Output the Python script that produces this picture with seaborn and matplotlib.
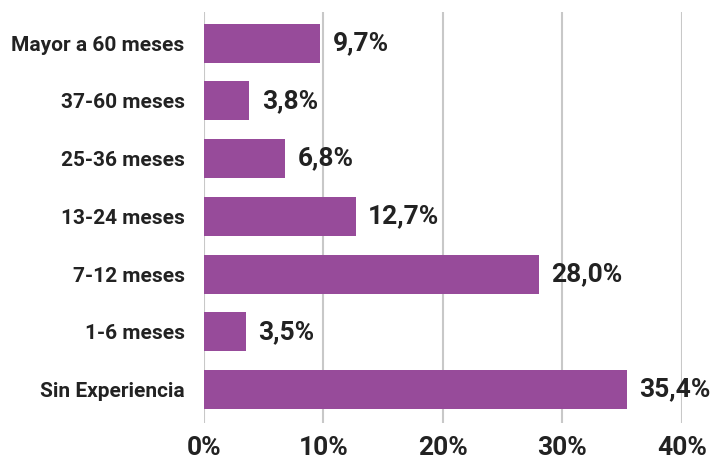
import pandas as pd
import seaborn as sns
from matplotlib import pyplot as plt

categories = ["Mayor a 60 meses", "37-60 meses", "25-36 meses", "13-24 meses",
              "7-12 meses", "1-6 meses", "Sin Experiencia"]
values = [9.7, 3.8, 6.8, 12.7, 28.0, 3.5, 35.4]
xticks = [0, 10, 20, 30, 40]

df = pd.DataFrame({"categoria": categories, "porcentaje": values})

sns.set_theme(style="white")
plt.rcParams["font.family"] = ["Roboto", "DejaVu Sans"]

fig = plt.figure(figsize=(7.15, 4.61), dpi=100)
ax = fig.add_axes([0.2853, 0.0824, 0.6685, 0.8915])

# vertical grid lines behind the bars
for t in xticks:
    ax.axvline(t, color="#c8c8c8", linewidth=1.5, zorder=0)

sns.barplot(data=df, x="porcentaje", y="categoria", color="#974b9a",
            saturation=1, width=0.675, linewidth=0, ax=ax, zorder=2)

for i, v in enumerate(values):
    ax.annotate(f"{v:.1f}%".replace(".", ","), xy=(v, i), xytext=(9, 0),
                textcoords="offset points", va="center", ha="left",
                fontsize=19, fontweight="bold", color="#222222")

ax.set_xlim(0, 40)
ax.set_ylim(6.58, -0.54)
ax.set_xticks(xticks)
ax.set_xticklabels([f"{t}%" for t in xticks], fontsize=19, fontweight="bold",
                   color="#222222")
ax.set_yticklabels(categories, fontsize=15, fontweight="bold", color="#222222")
ax.tick_params(axis="x", length=0, pad=9)
ax.tick_params(axis="y", length=0, pad=14)
ax.set_xlabel("")
ax.set_ylabel("")
for s in ax.spines.values():
    s.set_visible(False)

fig.savefig("out.png", dpi=100)
